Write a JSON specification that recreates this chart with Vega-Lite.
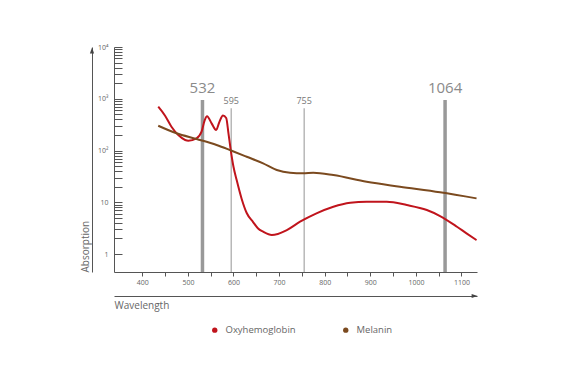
{
  "$schema": "https://vega.github.io/schema/vega-lite/v6.json",
  "width": 363,
  "height": 225,
  "autosize": {"type": "none"},
  "padding": {"left": 114, "top": 47, "right": 97, "bottom": 108},
  "background": "white",
  "config": {
    "view": {"stroke": null},
    "font": "Open Sans",
    "axis": {"domainColor": "#555555", "tickColor": "#555555", "labelColor": "#666666", "titleColor": "#666666", "grid": false, "titleFontWeight": "normal"}
  },
  "datasets": {
    "curves": [
      {"wl": 435, "abs": 702, "series": "Oxyhemoglobin"},
      {"wl": 450, "abs": 470, "series": "Oxyhemoglobin"},
      {"wl": 464, "abs": 288, "series": "Oxyhemoglobin"},
      {"wl": 479, "abs": 199, "series": "Oxyhemoglobin"},
      {"wl": 494, "abs": 160, "series": "Oxyhemoglobin"},
      {"wl": 501, "abs": 155, "series": "Oxyhemoglobin"},
      {"wl": 519, "abs": 172, "series": "Oxyhemoglobin"},
      {"wl": 530, "abs": 231, "series": "Oxyhemoglobin"},
      {"wl": 537, "abs": 388, "series": "Oxyhemoglobin"},
      {"wl": 542, "abs": 458, "series": "Oxyhemoglobin"},
      {"wl": 552, "abs": 335, "series": "Oxyhemoglobin"},
      {"wl": 562, "abs": 249, "series": "Oxyhemoglobin"},
      {"wl": 569, "abs": 355, "series": "Oxyhemoglobin"},
      {"wl": 577, "abs": 475, "series": "Oxyhemoglobin"},
      {"wl": 584, "abs": 425, "series": "Oxyhemoglobin"},
      {"wl": 589, "abs": 215, "series": "Oxyhemoglobin"},
      {"wl": 594, "abs": 102, "series": "Oxyhemoglobin"},
      {"wl": 600, "abs": 48.6, "series": "Oxyhemoglobin"},
      {"wl": 607, "abs": 26.9, "series": "Oxyhemoglobin"},
      {"wl": 618, "abs": 11.6, "series": "Oxyhemoglobin"},
      {"wl": 629, "abs": 6.2, "series": "Oxyhemoglobin"},
      {"wl": 643, "abs": 4.15, "series": "Oxyhemoglobin"},
      {"wl": 654, "abs": 3.11, "series": "Oxyhemoglobin"},
      {"wl": 665, "abs": 2.7, "series": "Oxyhemoglobin"},
      {"wl": 684, "abs": 2.33, "series": "Oxyhemoglobin"},
      {"wl": 717, "abs": 2.91, "series": "Oxyhemoglobin"},
      {"wl": 746, "abs": 4.21, "series": "Oxyhemoglobin"},
      {"wl": 782, "abs": 6.11, "series": "Oxyhemoglobin"},
      {"wl": 819, "abs": 8.2, "series": "Oxyhemoglobin"},
      {"wl": 856, "abs": 9.8, "series": "Oxyhemoglobin"},
      {"wl": 892, "abs": 10.25, "series": "Oxyhemoglobin"},
      {"wl": 936, "abs": 10.25, "series": "Oxyhemoglobin"},
      {"wl": 980, "abs": 8.85, "series": "Oxyhemoglobin"},
      {"wl": 1024, "abs": 7.08, "series": "Oxyhemoglobin"},
      {"wl": 1053, "abs": 5.42, "series": "Oxyhemoglobin"},
      {"wl": 1090, "abs": 3.37, "series": "Oxyhemoglobin"},
      {"wl": 1111, "abs": 2.51, "series": "Oxyhemoglobin"},
      {"wl": 1133, "abs": 1.86, "series": "Oxyhemoglobin"},
      {"wl": 435, "abs": 301, "series": "Melanin"},
      {"wl": 475, "abs": 215, "series": "Melanin"},
      {"wl": 519, "abs": 167, "series": "Melanin"},
      {"wl": 563, "abs": 128, "series": "Melanin"},
      {"wl": 596, "abs": 99, "series": "Melanin"},
      {"wl": 629, "abs": 75.9, "series": "Melanin"},
      {"wl": 665, "abs": 56.6, "series": "Melanin"},
      {"wl": 695, "abs": 42, "series": "Melanin"},
      {"wl": 724, "abs": 37.2, "series": "Melanin"},
      {"wl": 753, "abs": 36.3, "series": "Melanin"},
      {"wl": 775, "abs": 37.2, "series": "Melanin"},
      {"wl": 819, "abs": 33.6, "series": "Melanin"},
      {"wl": 892, "abs": 24.9, "series": "Melanin"},
      {"wl": 965, "abs": 20, "series": "Melanin"},
      {"wl": 1053, "abs": 15.6, "series": "Melanin"},
      {"wl": 1133, "abs": 11.9, "series": "Melanin"}
    ],
    "marks": [
      {"wl": 532, "top": 946, "kind": "laser", "label": "532"},
      {"wl": 595, "top": 654, "kind": "ref", "label": "595"},
      {"wl": 755, "top": 654, "kind": "ref", "label": "755"},
      {"wl": 1064, "top": 946, "kind": "laser", "label": "1064"}
    ]
  },
  "resolve": {"axis": {"x": "independent", "y": "independent"}},
  "layer": [
    {
      "data": {"name": "marks"},
      "transform": [{"filter": "datum.kind === 'laser'"}],
      "mark": {"type": "rule", "strokeWidth": 3.5, "color": "#999999"},
      "encoding": {
        "x": {"field": "wl", "type": "quantitative", "scale": {"domain": [338, 1134], "nice": false, "zero": false}, "axis": null},
        "y": {"field": "top", "type": "quantitative", "scale": {"type": "log", "domain": [0.45, 10000], "nice": false}, "axis": null},
        "y2": {"datum": 0.45}
      }
    },
    {
      "data": {"name": "marks"},
      "transform": [{"filter": "datum.kind === 'ref'"}],
      "mark": {"type": "rule", "strokeWidth": 1.2, "color": "#a6a6a6"},
      "encoding": {
        "x": {"field": "wl", "type": "quantitative", "axis": null},
        "y": {"field": "top", "type": "quantitative", "axis": null},
        "y2": {"datum": 0.45}
      }
    },
    {
      "data": {"name": "marks"},
      "transform": [{"filter": "datum.kind === 'laser'"}],
      "mark": {"type": "text", "baseline": "alphabetic", "dy": -7, "fontSize": 15, "color": "#8a8a8a"},
      "encoding": {
        "x": {"field": "wl", "type": "quantitative", "axis": null},
        "y": {"field": "top", "type": "quantitative", "axis": null},
        "text": {"field": "label"}
      }
    },
    {
      "data": {"name": "marks"},
      "transform": [{"filter": "datum.kind === 'ref'"}],
      "mark": {"type": "text", "baseline": "alphabetic", "dy": -4.5, "fontSize": 9, "color": "#777777"},
      "encoding": {
        "x": {"field": "wl", "type": "quantitative", "axis": null},
        "y": {"field": "top", "type": "quantitative", "axis": null},
        "text": {"field": "label"}
      }
    },
    {
      "data": {"name": "curves"},
      "mark": {"type": "line", "interpolate": "monotone", "strokeWidth": 2},
      "encoding": {
        "x": {"field": "wl", "type": "quantitative",
          "axis": {"orient": "bottom", "values": [400, 450, 500, 550, 600, 650, 700, 750, 800, 850, 900, 950, 1000, 1050, 1100],
            "labelExpr": "datum.value % 100 === 0 ? datum.label : ''", "format": "d", "tickSize": 4, "labelPadding": 2, "labelFontSize": 7, "title": null}},
        "y": {"field": "abs", "type": "quantitative",
          "axis": {"orient": "left",
            "values": [1, 2, 3, 4, 5, 6, 7, 8, 9, 10, 20, 30, 40, 50, 60, 70, 80, 90, 100, 200, 300, 400, 500, 600, 700, 800, 900, 1000, 2000, 3000, 4000, 5000, 6000, 7000, 8000, 9000, 10000],
            "labelExpr": "datum.value == 10000 ? '10⁴' : datum.value == 1000 ? '10³' : datum.value == 100 ? '10²' : datum.value == 10 ? '10' : datum.value == 1 ? '1' : ''",
            "tickSize": -8, "labelPadding": 14, "labelFontSize": 7, "title": null}},
        "color": {"field": "series", "type": "nominal",
          "scale": {"domain": ["Oxyhemoglobin", "Melanin"], "range": ["#c0141c", "#7b4a1f"]},
          "legend": {"orient": "none", "legendX": 96, "legendY": 278, "direction": "horizontal", "title": null, "symbolType": "circle", "symbolSize": 28, "symbolStrokeWidth": 0, "labelFontSize": 9.5, "labelColor": "#666666", "labelOffset": 6, "columnPadding": 45,
            "encode": {"symbols": {"update": {"fill": {"scale": "color", "field": "value"}, "fillOpacity": {"value": 1}}}}}}
      }
    },
    {
      "data": {"values": [{}]},
      "mark": {"type": "point", "shape": "M0,-1.2L0.7,0.8L-0.7,0.8Z", "size": 36, "filled": true, "color": "#444444", "opacity": 1, "xOffset": -22, "yOffset": 4},
      "encoding": {
        "x": {"datum": 338, "type": "quantitative", "axis": null},
        "y": {"datum": 10000, "type": "quantitative",
          "axis": {"orient": "left", "offset": 22, "ticks": false, "labels": false, "title": "Absorption", "titleFontSize": 10, "titlePadding": 2, "titleAnchor": "start"}}
      }
    },
    {
      "data": {"values": [{}]},
      "mark": {"type": "point", "shape": "M1.2,0L-0.8,-0.7L-0.8,0.7Z", "size": 36, "filled": true, "color": "#444444", "opacity": 1, "xOffset": -3, "yOffset": 24},
      "encoding": {
        "x": {"datum": 1134, "type": "quantitative",
          "axis": {"orient": "bottom", "offset": 24, "ticks": false, "labels": false, "title": "Wavelength", "titleFontSize": 10, "titlePadding": 4, "titleAnchor": "start"}},
        "y": {"datum": 0.45, "type": "quantitative", "axis": null}
      }
    }
  ]
}
